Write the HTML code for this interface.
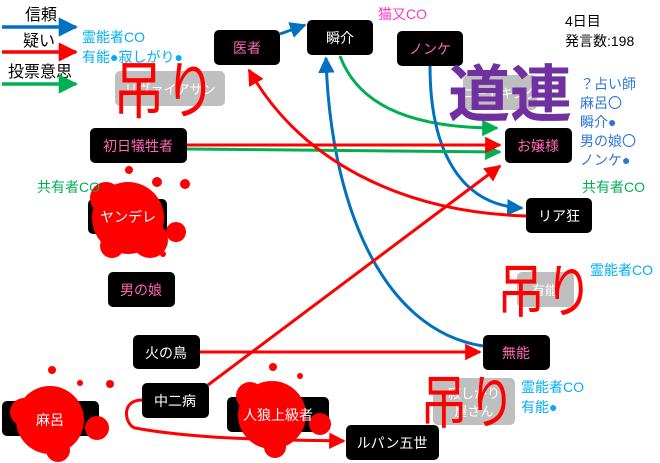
<!DOCTYPE html>
<html><head><meta charset="utf-8"><style>
html,body{margin:0;padding:0;background:#fff;}
svg{display:block;font-family:"Liberation Sans","Noto Sans CJK JP",sans-serif;}
</style></head><body>
<svg width="660" height="463" viewBox="0 0 660 463" xmlns="http://www.w3.org/2000/svg">
<defs>
<marker id="ab" viewBox="0 0 10 10" refX="9" refY="5" markerWidth="5.5" markerHeight="5.5" orient="auto"><path d="M0,0L10,5L0,10z" fill="#0070c0"/></marker>
<marker id="ar" viewBox="0 0 10 10" refX="9" refY="5" markerWidth="5.5" markerHeight="5.5" orient="auto"><path d="M0,0L10,5L0,10z" fill="#ff0000"/></marker>
<marker id="ag" viewBox="0 0 10 10" refX="9" refY="5" markerWidth="5.5" markerHeight="5.5" orient="auto"><path d="M0,0L10,5L0,10z" fill="#00b050"/></marker>
</defs>

<!-- legend -->
<text x="25" y="20" font-size="16">信頼</text>
<line x1="2" y1="27" x2="76" y2="27" stroke="#0070c0" stroke-width="3.5" marker-end="url(#ab)"/>
<text x="23" y="46" font-size="16">疑い</text>
<line x1="2" y1="52" x2="76" y2="52" stroke="#ff0000" stroke-width="3.5" marker-end="url(#ar)"/>
<text x="8" y="77" font-size="16">投票意思</text>
<line x1="2" y1="84" x2="76" y2="84" stroke="#00b050" stroke-width="3.5" marker-end="url(#ag)"/>

<!-- gray dead boxes -->
<rect x="115" y="71" width="110" height="35" rx="5" fill="#bfbfbf"/>
<text x="170" y="94" font-size="13" fill="#fff" text-anchor="middle">リヴァイアサン</text>
<rect x="463" y="75" width="74" height="35" rx="5" fill="#bfbfbf"/>
<text x="500" y="98" font-size="13" fill="#fff" text-anchor="middle">ニートキング</text>
<rect x="517" y="272" width="57" height="35" rx="5" fill="#bfbfbf"/>
<text x="545" y="295" font-size="13" fill="#fff" text-anchor="middle">有能</text>
<rect x="433" y="378" width="82" height="47" rx="5" fill="#bfbfbf"/>
<text x="474" y="398" font-size="13" fill="#fff" text-anchor="middle">寂しがり</text>
<text x="474" y="416" font-size="13" fill="#fff" text-anchor="middle">屋さん</text>

<!-- connectors -->
<line x1="280" y1="34" x2="305" y2="25" stroke="#0070c0" stroke-width="3" marker-end="url(#ab)"/>
<path d="M483,346 C380,330 330,200 326,58" fill="none" stroke="#0070c0" stroke-width="3" marker-end="url(#ab)"/>
<path d="M340,56 C360,110 420,128 497,128" fill="none" stroke="#00b050" stroke-width="3" marker-end="url(#ag)"/>
<path d="M430,66 C430,150 460,205 522,208" fill="none" stroke="#0070c0" stroke-width="3" marker-end="url(#ab)"/>
<line x1="187" y1="149" x2="500" y2="152" stroke="#00b050" stroke-width="3" marker-end="url(#ag)"/>
<line x1="187" y1="145" x2="500" y2="145" stroke="#ff0000" stroke-width="3" marker-end="url(#ar)"/>
<path d="M526,216 C400,212 300,160 249,70" fill="none" stroke="#ff0000" stroke-width="3" marker-end="url(#ar)"/>
<line x1="208" y1="385" x2="500" y2="166" stroke="#ff0000" stroke-width="3" marker-end="url(#ar)"/>
<line x1="200" y1="352" x2="480" y2="352" stroke="#ff0000" stroke-width="3" marker-end="url(#ar)"/>
<path d="M142,400 C120,400 125,425 135,428 C200,440 290,440 344,441" fill="none" stroke="#ff0000" stroke-width="3" marker-end="url(#ar)"/>

<!-- nodes -->
<g font-size="14" text-anchor="middle">
<rect x="214" y="30" width="66" height="35" rx="5"/><text x="247" y="53" fill="#ff66b3">医者</text>
<rect x="307" y="20" width="66" height="35" rx="5"/><text x="340" y="43" fill="#fff">瞬介</text>
<rect x="397" y="31" width="66" height="35" rx="5"/><text x="430" y="54" fill="#ff66b3">ノンケ</text>
<rect x="90" y="128" width="97" height="35" rx="5"/><text x="138" y="151" fill="#ff66b3">初日犠牲者</text>
<rect x="505" y="128" width="67" height="35" rx="5"/><text x="538" y="151" fill="#ff66b3">お嬢様</text>
<rect x="88" y="199" width="79" height="35" rx="5"/>
<rect x="526" y="198" width="66" height="35" rx="5"/><text x="559" y="221" fill="#fff">リア狂</text>
<rect x="108" y="272" width="67" height="35" rx="5"/><text x="141" y="295" fill="#ff66b3">男の娘</text>
<rect x="133" y="335" width="67" height="34" rx="5"/><text x="166" y="358" fill="#fff">火の鳥</text>
<rect x="483" y="335" width="67" height="35" rx="5"/><text x="516" y="358" fill="#ff66b3">無能</text>
<rect x="142" y="383" width="67" height="35" rx="5"/><text x="175" y="406" fill="#fff">中二病</text>
<rect x="2" y="401" width="97" height="35" rx="5"/>
<rect x="227" y="397" width="102" height="35" rx="5"/>
<rect x="346" y="425" width="93" height="35" rx="5"/><text x="392" y="448" fill="#fff">ルパン五世</text>
</g>

<!-- blood -->
<g fill="#ff0000">
<circle cx="128" cy="218" r="36"/><circle cx="106" cy="198" r="16"/><circle cx="150" cy="240" r="18"/><circle cx="176" cy="232" r="10"/><circle cx="129" cy="170" r="4"/><circle cx="157" cy="182" r="5"/><circle cx="185" cy="184" r="5"/><circle cx="163" cy="254" r="3"/><circle cx="112" cy="246" r="12"/>
<circle cx="50" cy="420" r="34"/><circle cx="97" cy="428" r="12"/><circle cx="24" cy="412" r="14"/><circle cx="52" cy="370" r="4"/><circle cx="80" cy="383" r="3"/><circle cx="110" cy="384" r="4"/><circle cx="58" cy="450" r="12"/>
<circle cx="272" cy="415" r="34"/><circle cx="320" cy="424" r="11"/><circle cx="273" cy="367" r="4"/><circle cx="300" cy="376" r="3"/><circle cx="250" cy="396" r="14"/><circle cx="275" cy="447" r="11"/>
</g>
<g font-size="14" text-anchor="middle" fill="#fff">
<text x="128" y="222">ヤンデレ</text>
<text x="50" y="425">麻呂</text>
<text x="278" y="420">人狼上級者</text>
</g>

<!-- annotations -->
<g font-size="14">
<text x="82" y="42" fill="#00b0f0">霊能者CO</text>
<text x="82" y="62" fill="#00b0f0">有能●寂しがり●</text>
<text x="378" y="19" fill="#ff33cc">猫又CO</text>
<text x="565" y="26" fill="#000">4日目</text>
<text x="565" y="46" fill="#000">発言数:198</text>
<g fill="#2e75d6">
<text x="580" y="89">？占い師</text>
<text x="580" y="108">麻呂〇</text>
<text x="580" y="127">瞬介●</text>
<text x="580" y="146">男の娘〇</text>
<text x="580" y="165">ノンケ●</text>
</g>
<text x="37" y="192" fill="#00b050">共有者CO</text>
<text x="582" y="192" fill="#00b050">共有者CO</text>
<text x="590" y="275" fill="#00b0f0">霊能者CO</text>
<text x="521" y="392" fill="#00b0f0">霊能者CO</text>
<text x="521" y="412" fill="#00b0f0">有能●</text>
</g>

<!-- big texts -->
<text transform="translate(113,113) scale(0.92,1.12)" font-size="56" fill="#ff0000">吊り</text>
<text x="448" y="116" font-size="62" fill="#7030a0" font-weight="bold">道連</text>
<text transform="translate(497,312) scale(0.92,1.12)" font-size="52" fill="#ff0000">吊り</text>
<text transform="translate(420,423) scale(0.92,1.12)" font-size="52" fill="#ff0000">吊り</text>
</svg>
</body></html>
